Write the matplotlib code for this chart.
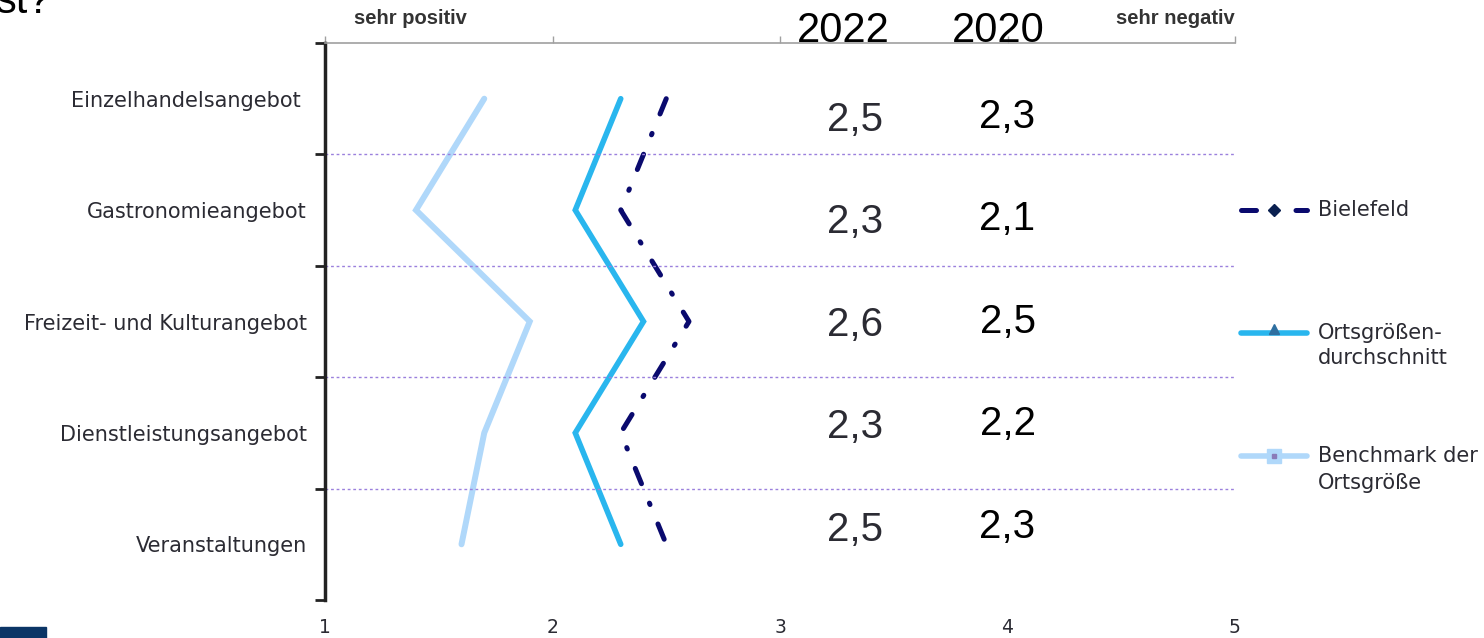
import matplotlib.pyplot as plt
from matplotlib.patches import Rectangle
from matplotlib.transforms import blended_transform_factory

categories = ["Einzelhandelsangebot ", "Gastronomieangebot", "Freizeit- und Kulturangebot",
              "Dienstleistungsangebot", "Veranstaltungen"]
bielefeld = [2.5, 2.3, 2.6, 2.3, 2.5]
ortsgroesse = [2.3, 2.1, 2.4, 2.1, 2.3]
benchmark = [1.7, 1.4, 1.9, 1.7, 1.6]
values_2022 = ["2,5", "2,3", "2,6", "2,3", "2,5"]
values_2020 = ["2,3", "2,1", "2,5", "2,2", "2,3"]
x_ticks = [1, 2, 3, 4, 5]

NAVY = "#0a0a6e"
BLUE = "#29b6ee"
LIGHT = "#b0d8fa"
TXT = "#2b2b33"
FS = 15

fig = plt.figure(figsize=(14.84, 6.38), dpi=100)
ax = fig.add_axes([325 / 1484, 1 - 600 / 638, 910 / 1484, 557 / 638])

ypos = list(range(len(categories)))
ax.plot(benchmark, ypos, color=LIGHT, lw=4.3, solid_capstyle="round", solid_joinstyle="miter")
ax.plot(ortsgroesse, ypos, color=BLUE, lw=4.0, solid_capstyle="round", solid_joinstyle="miter")
ax.plot(bielefeld, ypos, color=NAVY, lw=3.6, linestyle=(0, (3.3, 4.2, 0.3, 4.2)),
        dash_capstyle="round")

ax.set_xlim(1, 5)
ax.set_ylim(len(categories) - 0.5, -0.5)

# gridlines between categories
for b in [i + 0.5 for i in range(len(categories) - 1)]:
    ax.axhline(b, color="#9b80dd", lw=1, linestyle=(0, (2, 2)))

ax.set_yticks(ypos)
ax.set_yticklabels(categories, fontsize=FS, color=TXT)
ax.set_yticks([i - 0.5 for i in range(len(categories) + 1)], minor=True)
ax.tick_params(axis="y", which="major", length=0, pad=13)
ax.tick_params(axis="y", which="minor", length=7, width=2, color="#222222", direction="out")

ax.set_xticks(x_ticks)
ax.set_xticklabels([str(v) for v in x_ticks], fontsize=13.5, color=TXT)
ax.tick_params(axis="x", bottom=False, top=True, labelbottom=True, labeltop=False,
               length=5, width=1, color="#a0a0a0", direction="out", pad=8)

for s in ["right", "bottom"]:
    ax.spines[s].set_visible(False)
ax.spines["top"].set_color("#a0a0a0")
ax.spines["top"].set_linewidth(1.2)
ax.spines["left"].set_color("#222222")
ax.spines["left"].set_linewidth(2.5)

# value columns
for i in range(len(categories)):
    yb = 0.29 + i * 0.92
    ax.text(3.33, yb, values_2022[i], fontsize=29, family="Liberation Sans", color=TXT,
            ha="center", va="baseline")
    ax.text(4.0, yb - 0.03, values_2020[i], fontsize=29, family="Liberation Sans", color="black",
            ha="center", va="baseline")

ax.text(3.28, -0.51, "2022", fontsize=30, family="Liberation Sans", ha="center", va="baseline")
ax.text(3.96, -0.51, "2020", fontsize=30, family="Liberation Sans", ha="center", va="baseline")

fig.text(410 / 1484, 1 - 18 / 638, "sehr positiv", fontsize=14.5, fontweight="bold",
         family="Liberation Sans", color="#333333", ha="center", va="center")
fig.text(1175 / 1484, 1 - 18 / 638, "sehr negativ", fontsize=14.5, fontweight="bold",
         family="Liberation Sans", color="#333333", ha="center", va="center")

# legend drawn by hand beside the plot
tr = blended_transform_factory(ax.transAxes, ax.transData)
x0, x1 = 1.007, 1.079
xm = (x0 + x1) / 2
ax.plot([x0, x1], [1.0, 1.0], transform=tr, clip_on=False, color=NAVY, lw=3.6,
        linestyle=(0, (3.0, 3.8, 0.3, 3.8)), dash_capstyle="round")
ax.plot([xm], [1.0], transform=tr, clip_on=False, marker="D", ms=6, color="#0a2050")
ax.plot([x0, x1], [2.1, 2.1], transform=tr, clip_on=False, color=BLUE, lw=4,
        solid_capstyle="round")
ax.plot([xm], [2.07], transform=tr, clip_on=False, marker="^", ms=7, color="#2e6fa0")
ax.plot([x0, x1], [3.21, 3.21], transform=tr, clip_on=False, color=LIGHT, lw=4,
        solid_capstyle="round")
ax.plot([xm], [3.21], transform=tr, clip_on=False, marker="s", ms=10, color=LIGHT)
ax.plot([xm], [3.21], transform=tr, clip_on=False, marker="s", ms=2.5, color="#8a7bb8")

lx = 1.091
ax.text(lx, 1.0, "Bielefeld", transform=tr, fontsize=FS, color=TXT, va="center")
ax.text(lx, 2.1, "Ortsgrößen-", transform=tr, fontsize=FS, color=TXT, va="center")
ax.text(lx, 2.33, "durchschnitt", transform=tr, fontsize=FS, color=TXT, va="center")
ax.text(lx, 3.21, "Benchmark der", transform=tr, fontsize=FS, color=TXT, va="center")
ax.text(lx, 3.45, "Ortsgröße", transform=tr, fontsize=FS, color=TXT, va="center")

# cut-off title fragment (cut at the top edge as in the original) and corner mark
fig.text(-0.003, 1 - 13 / 638, "st?", fontsize=30, family="Liberation Sans", va="baseline")
fig.add_artist(Rectangle((0, 0), 46 / 1484, 11 / 638, transform=fig.transFigure,
                         color="#0b3566"))

fig.savefig("out.png", dpi=100)
